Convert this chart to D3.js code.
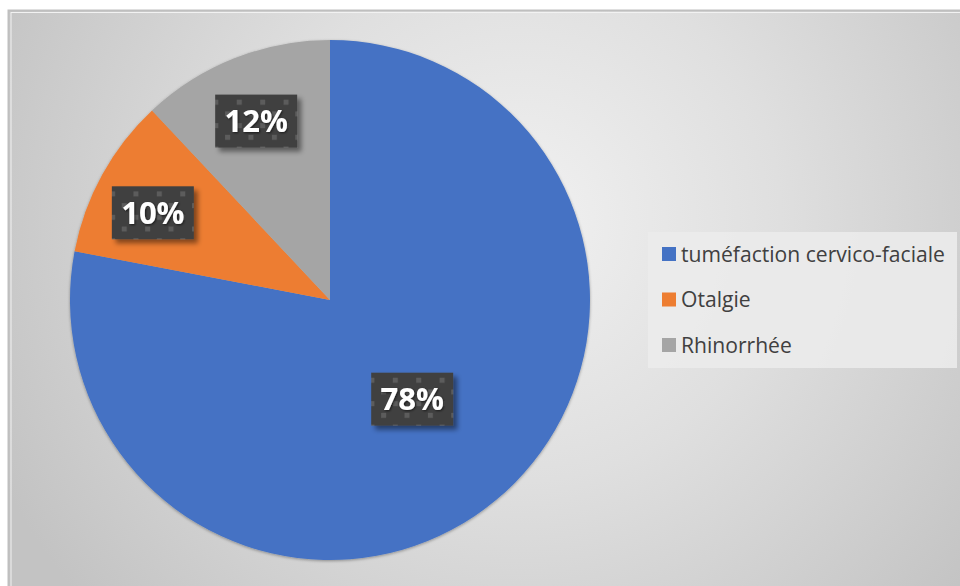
<!DOCTYPE html>
<html>
<head>
<meta charset="utf-8">
<script src="https://cdn.jsdelivr.net/npm/d3@7"></script>
<style>
  html, body { margin: 0; padding: 0; background: #ffffff; }
  svg { display: block; }
</style>
</head>
<body>
<svg id="chart" width="960" height="586"></svg>
<script>
// Symptom shares (percent)
const categories = ["tuméfaction cervico-faciale", "Otalgie", "Rhinorrhée"];
const values = [78, 10, 12];
const labels = ["78%", "10%", "12%"];
const colors = ["#4472c4", "#ed7d31", "#a5a5a5"];

const W = 960, H = 586;
const svg = d3.select("#chart");
const defs = svg.append("defs");

// Chart area background gradient
const bg = defs.append("radialGradient").attr("id", "bgGrad")
  .attr("gradientUnits", "userSpaceOnUse")
  .attr("cx", 520).attr("cy", 220).attr("r", 580);
bg.append("stop").attr("offset", "0").attr("stop-color", "#f1f1f1");
bg.append("stop").attr("offset", "0.45").attr("stop-color", "#dfdfdf");
bg.append("stop").attr("offset", "1").attr("stop-color", "#c3c3c3");

// Dotted dark fill for the value labels
const pat = defs.append("pattern").attr("id", "dots")
  .attr("patternUnits", "userSpaceOnUse")
  .attr("width", 23.4).attr("height", 23.4)
  .attr("x", 4).attr("y", 2);
pat.append("rect").attr("width", 23.4).attr("height", 23.4).attr("fill", "#404040");
pat.append("rect").attr("x", 0).attr("y", 0).attr("width", 5).attr("height", 5).attr("fill", "#5c5c5c");
pat.append("rect").attr("x", 11.7).attr("y", 11.7).attr("width", 5).attr("height", 5).attr("fill", "#5c5c5c");

const boxShadow = defs.append("filter").attr("id", "boxShadow")
  .attr("x", "-20%").attr("y", "-20%").attr("width", "150%").attr("height", "160%");
boxShadow.append("feDropShadow").attr("dx", 4).attr("dy", 4).attr("stdDeviation", 2.5)
  .attr("flood-color", "#000").attr("flood-opacity", 0.45);

const textShadow = defs.append("filter").attr("id", "textShadow")
  .attr("x", "-20%").attr("y", "-20%").attr("width", "140%").attr("height", "140%");
textShadow.append("feDropShadow").attr("dx", 1).attr("dy", 1).attr("stdDeviation", 0.8)
  .attr("flood-color", "#000").attr("flood-opacity", 0.6);

const pieShadow = defs.append("filter").attr("id", "pieShadow")
  .attr("x", "-10%").attr("y", "-10%").attr("width", "120%").attr("height", "120%");
pieShadow.append("feDropShadow").attr("dx", 0).attr("dy", 1).attr("stdDeviation", 1.5)
  .attr("flood-color", "#000").attr("flood-opacity", 0.35);

// Chart area frame
svg.append("rect").attr("x", 8.5).attr("y", 10.5).attr("width", W).attr("height", H)
  .attr("fill", "url(#bgGrad)").attr("stroke", "#bfbfbf").attr("stroke-width", 2);
svg.append("rect").attr("x", 11).attr("y", 12.5).attr("width", W).attr("height", H)
  .attr("fill", "none").attr("stroke", "#f2f2f2").attr("stroke-width", 1);

// Pie
const cx = 330, cy = 300, R = 260;
const pie = d3.pie().sort(null).value(d => d)(values);
const arc = d3.arc().innerRadius(0).outerRadius(R);

const g = svg.append("g").attr("transform", `translate(${cx},${cy})`);
g.append("g").attr("filter", "url(#pieShadow)")
  .selectAll("path").data(pie).join("path")
  .attr("d", arc)
  .attr("fill", (d, i) => colors[i]);

// Value labels: radial placement as a fraction of the radius, plus a small nudge
const labelRadius = [0.49, 0.76, 0.74];
const labelNudge = [[1, 1], [-4, 8], [-3, 0]];
const boxW = 82, boxH = 53;
const lab = g.selectAll("g.lab").data(pie).join("g").attr("class", "lab")
  .attr("transform", (d, i) => {
    const r = R * labelRadius[i];
    const c = d3.arc().innerRadius(r).outerRadius(r).centroid(d);
    return `translate(${c[0] + labelNudge[i][0]},${c[1] + labelNudge[i][1]})`;
  });
lab.append("rect")
  .attr("x", -boxW / 2).attr("y", -boxH / 2).attr("width", boxW).attr("height", boxH)
  .attr("fill", "url(#dots)").attr("filter", "url(#boxShadow)");
lab.append("text")
  .attr("text-anchor", "middle").attr("dy", "0.36em")
  .attr("font-family", "'Open Sans', sans-serif").attr("font-weight", 700)
  .attr("font-size", 31).attr("fill", "#ffffff")
  .attr("filter", "url(#textShadow)")
  .text((d, i) => labels[i]);

// Legend
const legend = svg.append("g");
legend.append("rect").attr("x", 648).attr("y", 232).attr("width", 309).attr("height", 136)
  .attr("fill", "#ebebeb").attr("opacity", 0.9);
const rowY = d3.scalePoint().domain(categories).range([254, 345]);
const items = legend.selectAll("g.item").data(categories).join("g").attr("class", "item")
  .attr("transform", d => `translate(662,${rowY(d)})`);
items.append("rect").attr("x", 0).attr("y", -7).attr("width", 14).attr("height", 14)
  .attr("fill", (d, i) => colors[i]);
const lt = items.append("text").attr("x", 19).attr("dy", "0.36em")
  .attr("font-family", "'Open Sans', sans-serif").attr("font-size", 20)
  .attr("fill", "#404040").text(d => d);
// size legend font so the longest entry spans the legend width
const longest = lt.nodes()[0];
const fs = 20 * 264 / longest.getComputedTextLength();
lt.attr("font-size", fs);
</script>
</body>
</html>
